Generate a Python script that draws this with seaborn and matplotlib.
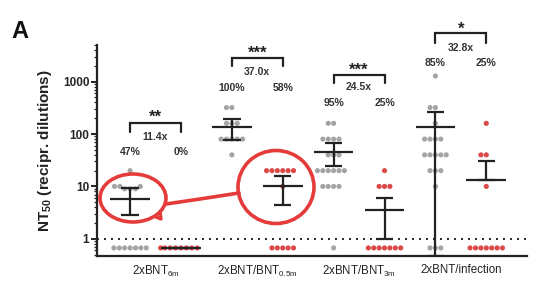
import warnings
warnings.filterwarnings('ignore')
import numpy as np
import pandas as pd
import matplotlib
matplotlib.use('Agg')
import matplotlib.pyplot as plt
import seaborn as sns
from matplotlib.patches import Ellipse
from matplotlib.lines import Line2D
from matplotlib.transforms import blended_transform_factory
from matplotlib.ticker import LogLocator, NullFormatter

# ---------------- data ----------------
group_labels = [r'2xBNT$_{\mathrm{6m}}$', r'2xBNT/BNT$_{\mathrm{0.5m}}$',
                r'2xBNT/BNT$_{\mathrm{3m}}$', '2xBNT/infection']
conditions = ['6m_wt', '6m_omi', '05m_wt', '05m_omi', '3m_wt', '3m_omi', 'inf_wt', 'inf_omi']
variants = ['wt', 'omi', 'wt', 'omi', 'wt', 'omi', 'wt', 'omi']

bnt6m_wt = [20, 10, 10, 10, 9, 9, 9, 0.67, 0.67, 0.67, 0.67, 0.67, 0.67, 0.67]
bnt6m_omi = [0.67, 0.67, 0.67, 0.67, 0.67, 0.67, 0.67, 0.67]
bnt05m_wt = [320, 320, 160, 160, 160, 80, 80, 80, 80, 80, 40]
bnt05m_omi = [20, 20, 20, 20, 20, 20, 10, 0.67, 0.67, 0.67, 0.67, 0.67]
bnt3m_wt = [160, 160, 80, 80, 80, 80, 40, 40, 40, 20, 20, 20, 20, 20, 20, 10, 10, 10, 10, 0.67]
bnt3m_omi = [20, 10, 10, 10, 0.67, 0.67, 0.67, 0.67, 0.67, 0.67, 0.67]
inf_wt = [1280, 320, 320, 160, 80, 80, 80, 80, 40, 40, 40, 40, 40, 20, 20, 20, 10, 0.67, 0.67, 0.67]
inf_omi = [160, 40, 40, 10, 0.67, 0.67, 0.67, 0.67, 0.67, 0.67, 0.67]

series = [bnt6m_wt, bnt6m_omi, bnt05m_wt, bnt05m_omi, bnt3m_wt, bnt3m_omi, inf_wt, inf_omi]

# geometric mean and error bars as drawn
gm_values = [5.7, 0.67, 138, 10.3, 46, 3.6, 136, 13.5]
err_low = [2.9, 0.67, 77, 4.5, 24, 1.0, 0.47, 13.5]
err_high = [9.2, 0.67, 196, 16, 68, 6.1, 269, 31]

pct_labels = ['47%', '0%', '100%', '58%', '95%', '25%', '85%', '25%']
fold_labels = ['11.4x', '37.0x', '24.5x', '32.8x']
sig_labels = ['**', '***', '***', '*']

ytick_values = [1, 10, 100, 1000]
ytick_labels = ['1', '10', '100', '1000']
detection_limit = 1

# ---------------- style ----------------
sns.set_theme(style='ticks')
plt.rcParams['font.family'] = ['Liberation Sans', 'DejaVu Sans']
plt.rcParams['mathtext.fontset'] = 'custom'
plt.rcParams['mathtext.rm'] = 'Liberation Sans'
plt.rcParams['mathtext.bf'] = 'Liberation Sans:bold'
plt.rcParams['mathtext.it'] = 'Liberation Sans:italic'

GRAY = '#a4a4a4'
RED = '#db4848'
INK = '#222222'
MARK = '#e53b3b'

W, H = 552, 301
fig = plt.figure(figsize=(W / 100, H / 100), dpi=100)
ax_l, ax_r, ax_t, ax_b = 97, 527, 45, 256
ax = fig.add_axes([ax_l / W, 1 - ax_b / H, (ax_r - ax_l) / W, (ax_b - ax_t) / H])

rows = []
for cond, var, vals in zip(conditions, variants, series):
    for v in vals:
        rows.append({'condition': cond, 'variant': var, 'value': v})
df = pd.DataFrame(rows)

sns.swarmplot(data=df, x='condition', y='value', hue='variant', order=conditions,
              palette={'wt': GRAY, 'omi': RED}, size=3.7, linewidth=0,
              legend=False, log_scale=(False, True), ax=ax, zorder=2)

ax.set_ylim(0.47, 5000)
ax.set_xlim(-0.65, 7.8)

# detection limit
ax.axhline(detection_limit, color=INK, lw=1.4, ls=(0, (1, 2.6)), zorder=1)

# mean and error bars
for i in range(len(conditions)):
    ax.hlines(gm_values[i], i - 0.39, i + 0.39, color=INK, lw=1.6, zorder=3)
    ax.vlines(i, err_low[i], err_high[i], color=INK, lw=1.6, zorder=3)
    ax.hlines([err_low[i], err_high[i]], i - 0.17, i + 0.17, color=INK, lw=1.6, zorder=3)

# axes styling
ax.set_yticks(ytick_values)
ax.set_yticklabels(ytick_labels, fontweight='bold', fontsize=8.5)
ax.yaxis.set_minor_locator(LogLocator(base=10, subs=np.arange(2, 10), numticks=20))
ax.yaxis.set_minor_formatter(NullFormatter())
ax.tick_params(axis='y', which='major', length=4, width=1.4, pad=1.5, color=INK)
ax.tick_params(axis='y', which='minor', length=2, width=0.9, color=INK)
ax.set_xticks([0.5, 2.5, 4.5, 6.5])
ax.set_xticklabels(group_labels, fontsize=8.3, color='#222222')
ax.tick_params(axis='x', length=0, pad=6)
for s in ['top', 'right']:
    ax.spines[s].set_visible(False)
for s in ['left', 'bottom']:
    ax.spines[s].set_linewidth(1.6)
    ax.spines[s].set_color(INK)
ax.set_xlabel('')
ax.set_ylabel(r'NT$_{\mathbf{50}}$ (recipr. dilutions)', fontsize=11, fontweight='bold', color=INK)
ax.yaxis.set_label_coords(-0.1, 0.5)

# annotations (pixel-row layout converted to axes fraction)
tr = blended_transform_factory(ax.transData, ax.transAxes)
def fy(py):
    return (ax_b - py) / (ax_b - ax_t)

layout = [  # star, bracket top, leg bottom, fold, pct (pixel rows)
    (117, 123, 132, 137, 152),
    (53, 58, 66, 72, 88),
    (70, 75, 83, 87, 103),
    (29, 33, 43, 48, 63),
]
for g, (ys, yt, yl, yf, yp) in enumerate(layout):
    x0, x1 = 2 * g, 2 * g + 1
    ax.add_line(Line2D([x0, x0, x1, x1], [fy(yl), fy(yt), fy(yt), fy(yl)], transform=tr,
                       color=INK, lw=1.6, clip_on=False, solid_joinstyle='miter'))
    ax.text((x0 + x1) / 2, fy(ys), sig_labels[g], transform=tr, ha='center', va='center',
            fontsize=12, fontweight='bold', color=INK, clip_on=False)
    ax.text((x0 + x1) / 2, fy(yf), fold_labels[g], transform=tr, ha='center', va='center',
            fontsize=7.5, fontweight='bold', color='#333333', clip_on=False)
    for x in [x0, x1]:
        ax.text(x, fy(yp), pct_labels[x], transform=tr, ha='center', va='center',
                fontsize=7.5, fontweight='bold', color='#333333', clip_on=False)

# panel letter
fig.text(11 / W, 1 - 32 / H, 'A', fontsize=17, fontweight='bold', ha='left', va='center', color='#111111')

# hand-drawn red marks
def fx(px):
    return px / W
def fyf(py):
    return 1 - py / H
fig.add_artist(Ellipse((fx(133), fyf(198)), 66 / W, 48 / H, transform=fig.transFigure,
                       fill=False, ec=MARK, lw=2.6))
fig.add_artist(Ellipse((fx(276), fyf(187)), 76 / W, 73 / H, transform=fig.transFigure,
                       fill=False, ec=MARK, lw=2.6))
fig.add_artist(Line2D([fx(166), fx(200), fx(239)], [fyf(204), fyf(199), fyf(193)],
                      transform=fig.transFigure, color=MARK, lw=2.6))
fig.add_artist(Line2D([fx(156), fx(161), fx(160)], [fyf(217), fyf(219), fyf(212)],
                      transform=fig.transFigure, color=MARK, lw=2.4))

fig.savefig('out.png', dpi=100)
